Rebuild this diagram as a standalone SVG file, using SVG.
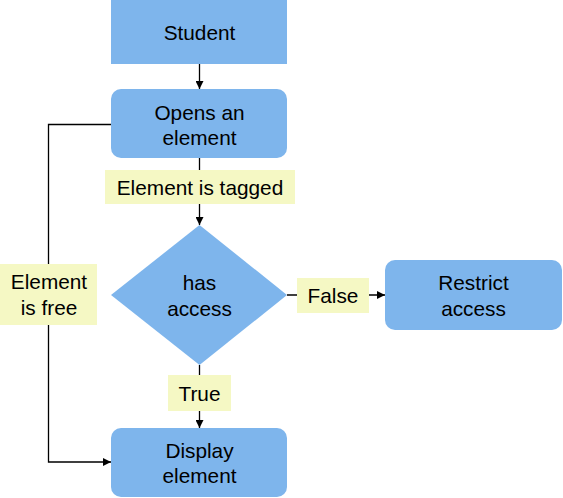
<svg xmlns="http://www.w3.org/2000/svg" width="563" height="498" viewBox="0 0 563 498">
<style>
.node{fill:#7EB5EC;}
.lbl{fill:#F5F8C4;}
text{font-family:"Liberation Sans",Arial,sans-serif;font-size:20.8px;fill:#000;text-anchor:middle;}
.edge{fill:none;stroke:#000;stroke-width:1.3;}
</style>
<defs>
<marker id="ah" viewBox="0 0 10 10" refX="10" refY="5" markerWidth="8" markerHeight="8" markerUnits="userSpaceOnUse" orient="auto">
<path d="M0,0 L10,5 L0,10 Z" fill="#000"/>
</marker>
</defs>
<rect width="563" height="498" fill="#fff"/>
<g id="connectors">
<path class="edge" d="M199.5,64 V89" marker-end="url(#ah)"/>
<path class="edge" d="M199.5,158 V225" marker-end="url(#ah)"/>
<path class="edge" d="M287,295 H385" marker-end="url(#ah)"/>
<path class="edge" d="M199.5,365 V428" marker-end="url(#ah)"/>
<path class="edge" d="M111,124.5 H48.5 V462 H111" marker-end="url(#ah)"/>
</g>
<g id="student">
<rect class="node" x="111" y="0" width="176" height="64"/>
<text x="199.5" y="40">Student</text>
</g>
<g id="opens">
<rect class="node" x="111" y="89" width="176" height="69" rx="10"/>
<text x="199.5" y="120">Opens an</text>
<text x="199.5" y="145">element</text>
</g>
<g id="label-tagged">
<rect class="lbl" x="105" y="170" width="190" height="34"/>
<text x="200" y="195">Element is tagged</text>
</g>
<g id="decision">
<polygon class="node" points="199.5,225 287,295 199.5,365 111,295"/>
<text x="199.5" y="290">has</text>
<text x="199.5" y="316">access</text>
</g>
<g id="label-free">
<rect class="lbl" x="0" y="264" width="97" height="61"/>
<text x="49" y="289">Element</text>
<text x="49" y="315">is free</text>
</g>
<g id="label-false">
<rect class="lbl" x="297" y="278" width="72" height="35"/>
<text x="333" y="303">False</text>
</g>
<g id="restrict">
<rect class="node" x="385" y="260" width="177" height="70" rx="10"/>
<text x="473.5" y="290">Restrict</text>
<text x="473.5" y="316">access</text>
</g>
<g id="label-true">
<rect class="lbl" x="168" y="375" width="63" height="36"/>
<text x="199.5" y="401">True</text>
</g>
<g id="display">
<rect class="node" x="111" y="428" width="176" height="69" rx="10"/>
<text x="199.5" y="458">Display</text>
<text x="199.5" y="483">element</text>
</g>
</svg>
